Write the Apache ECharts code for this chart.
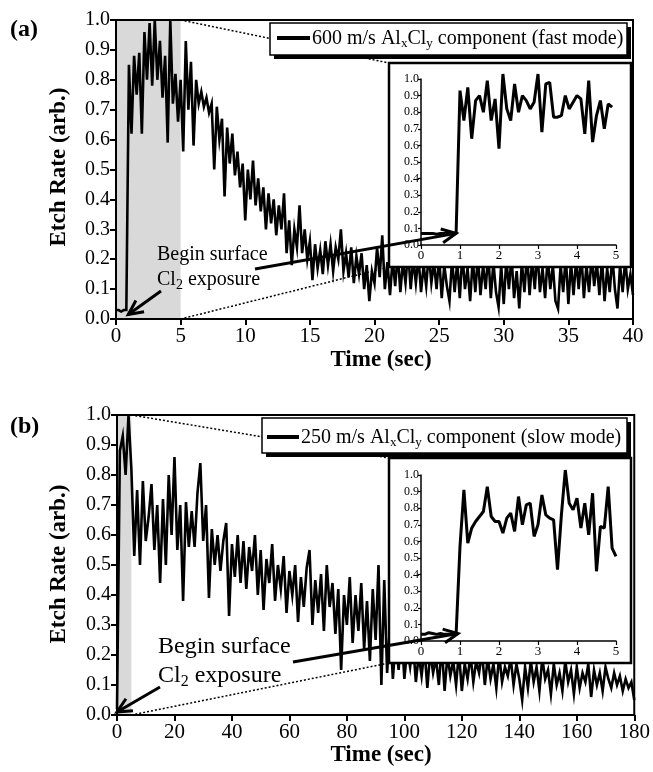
<!DOCTYPE html>
<html>
<head>
<meta charset="utf-8">
<script src="https://cdn.jsdelivr.net/npm/echarts@6/dist/echarts.min.js"></script>
<style>
  html, body { margin: 0; padding: 0; background: #fff; }
  #chart { width: 653px; height: 772px; }
</style>
</head>
<body>
<div id="chart"></div>
<script>
const serif = '"Liberation Serif", "Times New Roman", serif';

// (a) fast mode, one reading every 0.2 s, 0-40 s
const fastStep = 0.2;
const fastRate = [
  0.03, 0.03, 0.025, 0.03, 0.03, 0.85, 0.62, 0.88, 0.75, 0.89,
  0.62, 0.96, 0.80, 0.99, 0.78, 1.0, 0.80, 0.93, 0.74, 0.88,
  0.59, 1.0, 0.72, 0.82, 0.66, 0.80, 0.56, 0.93, 0.70, 0.86,
  0.58, 0.80, 0.72, 0.76, 0.71, 0.74, 0.69, 0.72, 0.50, 0.71,
  0.60, 0.67, 0.41, 0.64, 0.52, 0.62, 0.48, 0.56, 0.44, 0.52,
  0.33, 0.50, 0.40, 0.53, 0.38, 0.47, 0.36, 0.44, 0.30, 0.42,
  0.32, 0.40, 0.28, 0.38, 0.30, 0.42, 0.22, 0.33, 0.18, 0.30,
  0.24, 0.38, 0.22, 0.30, 0.20, 0.26, 0.13, 0.25, 0.17, 0.23,
  0.15, 0.26, 0.18, 0.25, 0.16, 0.24, 0.20, 0.30, 0.16, 0.22,
  0.14, 0.24, 0.12, 0.21, 0.15, 0.22, 0.10, 0.18, 0.06, 0.16,
  0.12, 0.24, 0.14, 0.28, 0.10, 0.19, 0.08, 0.20, 0.11, 0.22,
  0.09, 0.19, 0.12, 0.23, 0.10, 0.20, 0.12, 0.21, 0.09, 0.18,
  0.11, 0.22, 0.12, 0.19, 0.10, 0.21, 0.07, 0.18, 0.11, 0.06,
  0.20, 0.09, 0.19, 0.07, 0.22, 0.10, 0.17, 0.06, 0.20, 0.09,
  0.21, 0.08, 0.18, 0.10, 0.22, 0.07, 0.19, 0.09, 0.04, 0.18,
  0.05, 0.20, 0.10, 0.21, 0.07, 0.16, 0.035, 0.19, 0.09, 0.22,
  0.08, 0.20, 0.10, 0.23, 0.09, 0.17, 0.07, 0.21, 0.10, 0.18,
  0.06, 0.035, 0.18, 0.09, 0.21, 0.05, 0.19, 0.08, 0.20, 0.10,
  0.22, 0.07, 0.18, 0.09, 0.21, 0.11, 0.19, 0.08, 0.20, 0.06,
  0.17, 0.09, 0.21, 0.10, 0.035, 0.18, 0.09, 0.20, 0.10, 0.15,
  0.08
];

// (a) inset, first 5 s, every 0.1 s
const fastInsetStep = 0.1;
const fastInsetRate = [
  0.07, 0.07, 0.07, 0.07, 0.065, 0.07, 0.07, 0.07, 0.07, 0.07,
  0.93, 0.75, 0.95, 0.64, 0.87, 0.90, 0.80, 0.99, 0.75, 0.88,
  0.58, 1.03, 0.82, 0.75, 0.97, 0.80, 0.90, 0.87, 0.82, 0.86,
  1.03, 0.68, 0.97, 0.98, 0.77, 0.77, 0.78, 0.90, 0.82, 0.86,
  0.90, 0.88, 0.67, 0.99, 0.62, 0.78, 0.87, 0.70, 0.85, 0.83
];

// (b) slow mode, one reading every 1 s, 0-180 s
const slowStep = 1;
const slowRate = [
  0.02, 0.88, 0.93, 0.80, 1.0, 0.82, 0.53, 0.75, 0.50, 0.78,
  0.58, 0.66, 0.77, 0.55, 0.70, 0.44, 0.72, 0.50, 0.80, 0.60,
  0.86, 0.55, 0.70, 0.38, 0.71, 0.56, 0.68, 0.56, 0.74, 0.84,
  0.58, 0.70, 0.39, 0.62, 0.50, 0.60, 0.48, 0.58, 0.64, 0.33,
  0.57, 0.46, 0.60, 0.44, 0.58, 0.42, 0.56, 0.48, 0.60, 0.40,
  0.55, 0.35, 0.52, 0.44, 0.57, 0.38, 0.50, 0.42, 0.53, 0.34,
  0.48, 0.40, 0.50, 0.31, 0.46, 0.36, 0.49, 0.55, 0.30, 0.45,
  0.34, 0.47, 0.28, 0.50, 0.36, 0.44, 0.27, 0.42, 0.15, 0.40,
  0.30, 0.46, 0.24, 0.40, 0.28, 0.44, 0.22, 0.38, 0.18, 0.42,
  0.25, 0.50, 0.10, 0.45, 0.14, 0.30, 0.12, 0.25, 0.15, 0.28,
  0.12, 0.22, 0.16, 0.24, 0.11, 0.20, 0.13, 0.22, 0.09, 0.21,
  0.14, 0.19, 0.10, 0.23, 0.08, 0.20, 0.13, 0.18, 0.10, 0.21,
  0.08, 0.17, 0.12, 0.20, 0.11, 0.18, 0.14, 0.21, 0.10, 0.19,
  0.12, 0.17, 0.09, 0.20, 0.11, 0.16, 0.13, 0.19, 0.10, 0.17,
  0.12, 0.05, 0.16, 0.09, 0.18, 0.11, 0.16, 0.08, 0.19, 0.12,
  0.15, 0.07, 0.17, 0.10, 0.14, 0.08, 0.18, 0.11, 0.15, 0.07,
  0.16, 0.09, 0.14, 0.11, 0.17, 0.06, 0.15, 0.10, 0.14, 0.08,
  0.16, 0.12, 0.09, 0.14, 0.10, 0.13, 0.08, 0.12, 0.09, 0.11,
  0.05
];

// (b) inset, first 5 s, every 0.1 s
const slowInsetStep = 0.1;
const slowInsetRate = [
  0.04, 0.04, 0.05, 0.045, 0.04, 0.045, 0.04, 0.04, 0.04, 0.04,
  0.57, 0.91, 0.59, 0.68, 0.72, 0.75, 0.78, 0.93, 0.75, 0.72,
  0.72, 0.65, 0.74, 0.77, 0.66, 0.87, 0.70, 0.82, 0.83, 0.63,
  0.70, 0.88, 0.76, 0.74, 0.73, 0.43, 0.76, 1.03, 0.83, 0.79,
  0.86, 0.68, 0.83, 0.64, 0.89, 0.42, 0.69, 0.68, 0.93, 0.56,
  0.51
];

const toPairs = (vals, step) => vals.map((v, i) => [+(i * step).toFixed(2), v]);

const mainX = (max, interval) => ({
  type: 'value', min: 0, max: max, interval: interval, z: 6,
  axisLine: { lineStyle: { color: '#000', width: 2 } },
  axisTick: { length: 6, lineStyle: { color: '#000', width: 2 } },
  axisLabel: { color: '#000', fontFamily: serif, fontSize: 21, margin: 7 },
  splitLine: { show: false }
});
const mainY = (gi) => ({
  type: 'value', gridIndex: gi, min: 0, max: 1, interval: 0.1, z: 6,
  axisLine: { show: true, lineStyle: { color: '#000', width: 2 } },
  axisTick: { show: true, length: 6, lineStyle: { color: '#000', width: 2 } },
  axisLabel: { color: '#000', fontFamily: serif, fontSize: 20, margin: 6, formatter: v => v.toFixed(1) },
  splitLine: { show: false }
});
const insetX = (gi) => ({
  type: 'value', gridIndex: gi, min: 0, max: 5, interval: 1, z: 12,
  axisLine: { lineStyle: { color: '#000', width: 1.5 } },
  axisTick: { length: 4, lineStyle: { color: '#000', width: 1.2 } },
  axisLabel: { color: '#000', fontFamily: serif, fontSize: 13, margin: 4 },
  splitLine: { show: false }
});
const insetY = (gi) => ({
  type: 'value', gridIndex: gi, min: 0, max: 1, interval: 0.1, z: 12,
  axisLine: { show: true, lineStyle: { color: '#000', width: 1.5 } },
  axisTick: { show: true, length: 3, lineStyle: { color: '#000', width: 1.2 } },
  axisLabel: { color: '#000', fontFamily: serif, fontSize: 12, margin: 2, formatter: v => v.toFixed(1) },
  splitLine: { show: false }
});

const chart = echarts.init(document.getElementById('chart'));

const option = {
  animation: false,
  backgroundColor: '#fff',
  grid: [
    { left: 116, top: 20, width: 517, height: 299, show: true, z: 6, borderColor: '#000', borderWidth: 2, backgroundColor: 'transparent' },
    { left: 421, top: 79, width: 195, height: 166 },
    { left: 117, top: 415, width: 518, height: 300, show: true, z: 6, borderColor: '#000', borderWidth: 2, backgroundColor: 'transparent' },
    { left: 421, top: 475, width: 195, height: 166 }
  ],
  xAxis: [
    Object.assign(mainX(40, 5), { gridIndex: 0 }),
    insetX(1),
    Object.assign(mainX(180, 20), { gridIndex: 2 }),
    insetX(3)
  ],
  yAxis: [mainY(0), insetY(1), mainY(2), insetY(3)],
  series: [
    {
      type: 'line', xAxisIndex: 0, yAxisIndex: 0, data: [], z: 1, silent: true,
      markArea: { silent: true, itemStyle: { color: '#d9d9d9' }, data: [[{ xAxis: 0 }, { xAxis: 5 }]] }
    },
    {
      type: 'line', xAxisIndex: 0, yAxisIndex: 0, data: toPairs(fastRate, fastStep),
      showSymbol: false, z: 3, lineStyle: { color: '#000', width: 2.6, join: 'miter' }
    },
    {
      type: 'line', xAxisIndex: 1, yAxisIndex: 1, data: toPairs(fastInsetRate, fastInsetStep),
      showSymbol: false, z: 12, clip: false, lineStyle: { color: '#000', width: 3 }
    },
    {
      type: 'line', xAxisIndex: 2, yAxisIndex: 2, data: [], z: 1, silent: true,
      markArea: { silent: true, itemStyle: { color: '#d9d9d9' }, data: [[{ xAxis: 0 }, { xAxis: 5 }]] }
    },
    {
      type: 'line', xAxisIndex: 2, yAxisIndex: 2, data: toPairs(slowRate, slowStep),
      showSymbol: false, z: 3, lineStyle: { color: '#000', width: 2.6, join: 'miter' }
    },
    {
      type: 'line', xAxisIndex: 3, yAxisIndex: 3, data: toPairs(slowInsetRate, slowInsetStep),
      showSymbol: false, z: 12, clip: false, lineStyle: { color: '#000', width: 3 }
    }
  ]
};
chart.setOption(option);

// ---- overlays: inset frames, legends, zoom guides, labels, arrows ----
const px = (g, p) => chart.convertToPixel({ gridIndex: g }, p);

function arrow(from, to, z) {
  const a = Math.atan2(to[1] - from[1], to[0] - from[0]);
  const L = 16, t = 0.45;
  const h1 = [to[0] - L * Math.cos(a - t), to[1] - L * Math.sin(a - t)];
  const h2 = [to[0] - L * Math.cos(a + t), to[1] - L * Math.sin(a + t)];
  return [
    { type: 'line', z: z, shape: { x1: from[0], y1: from[1], x2: to[0], y2: to[1] }, style: { stroke: '#000', lineWidth: 3 } },
    { type: 'polyline', z: z, shape: { points: [h1, to, h2] }, style: { stroke: '#000', lineWidth: 3, fill: null } }
  ];
}

const panels = [
  {
    main: 0, inset: 1, box: [389, 63, 242, 204], legend: [270, 23, 357, 32],
    sample: [277, 310, 38], label: '600 m/s', mode: 'fast', tag: '(a)', tagY: 30,
    yTitleY: 167, xTitleY: 360, textX: 157, textY: [255, 278], textSize: 20,
    arrow1From: [161, 291], arrow1To: [0.95, 0.015], arrow2From: [255, 269], arrow2To: [0.9, 0.07]
  },
  {
    main: 2, inset: 3, box: [389, 458, 242, 205], legend: [262, 418, 365, 35],
    sample: [267, 299, 437], label: '250 m/s', mode: 'slow', tag: '(b)', tagY: 427,
    yTitleY: 564, xTitleY: 755, textX: 158, textY: [647, 674], textSize: 24,
    arrow1From: [160, 687], arrow1To: [0, 0.01], arrow2From: [293, 662], arrow2To: [0.95, 0.045]
  }
];

const graphics = [];
panels.forEach(p => {
  const b = p.box;
  const top5 = px(p.main, [5, 1]);
  const bot5 = px(p.main, [5, 0]);
  graphics.push(
    { type: 'line', z: 4, shape: { x1: top5[0], y1: top5[1], x2: b[0], y2: b[1] }, style: { stroke: '#000', lineWidth: 1.5, lineDash: [2, 2] } },
    { type: 'line', z: 4, shape: { x1: bot5[0], y1: bot5[1], x2: b[0], y2: b[1] + b[3] }, style: { stroke: '#000', lineWidth: 1.5, lineDash: [2, 2] } },
    { type: 'rect', z: 5, shape: { x: b[0], y: b[1], width: b[2], height: b[3] }, style: { fill: '#fff', stroke: '#000', lineWidth: 2.5 } }
  );
  const l = p.legend;
  graphics.push(
    { type: 'rect', z: 19, shape: { x: l[0] + 4, y: l[1] + 4, width: l[2], height: l[3] }, style: { fill: '#000' } },
    { type: 'rect', z: 20, shape: { x: l[0], y: l[1], width: l[2], height: l[3] }, style: { fill: '#fff', stroke: '#000', lineWidth: 1.5 } },
    { type: 'line', z: 21, shape: { x1: p.sample[0], y1: p.sample[2], x2: p.sample[1], y2: p.sample[2] }, style: { stroke: '#000', lineWidth: 4 } },
    {
      type: 'text', z: 21, x: p.sample[1] + 2, y: p.sample[2] + 1,
      style: {
        text: '{n|' + p.label + ' Al}{s|x}{n|Cl}{s|y}{n| component (' + p.mode + ' mode)}',
        align: 'left', verticalAlign: 'middle',
        rich: {
          n: { fontFamily: serif, fontSize: 20, fill: '#000' },
          s: { fontFamily: serif, fontSize: 13, fill: '#000', padding: [10, 0, 0, 0] }
        }
      }
    }
  );
  graphics.push(
    { type: 'text', z: 30, x: 10, y: p.tagY, style: { text: p.tag, fontFamily: serif, fontWeight: 'bold', fontSize: 24, fill: '#000', align: 'left', verticalAlign: 'middle' } },
    { type: 'text', z: 30, x: 59, y: p.yTitleY, rotation: Math.PI / 2, style: { text: 'Etch Rate (arb.)', fontFamily: serif, fontWeight: 'bold', fontSize: 23, fill: '#000', align: 'center', verticalAlign: 'middle' } },
    { type: 'text', z: 30, x: 381, y: p.xTitleY, style: { text: 'Time (sec)', fontFamily: serif, fontWeight: 'bold', fontSize: 23, fill: '#000', align: 'center', verticalAlign: 'middle' } },
    { type: 'text', z: 30, x: p.textX, y: p.textY[0], style: { text: 'Begin surface', fontFamily: serif, fontSize: p.textSize, fill: '#000', align: 'left', verticalAlign: 'middle' } },
    {
      type: 'text', z: 30, x: p.textX, y: p.textY[1] + 2,
      style: {
        text: '{n|Cl}{s|2}{n| exposure}', align: 'left', verticalAlign: 'middle',
        rich: {
          n: { fontFamily: serif, fontSize: p.textSize, fill: '#000' },
          s: { fontFamily: serif, fontSize: Math.round(p.textSize * 0.68), fill: '#000', padding: [Math.round(p.textSize * 0.5), 0, 0, 0] }
        }
      }
    }
  );
  graphics.push(...arrow(p.arrow1From, px(p.main, p.arrow1To), 30));
  graphics.push(...arrow(p.arrow2From, px(p.inset, p.arrow2To), 30));
});

chart.setOption({ graphic: { elements: graphics } });
</script>
</body>
</html>
